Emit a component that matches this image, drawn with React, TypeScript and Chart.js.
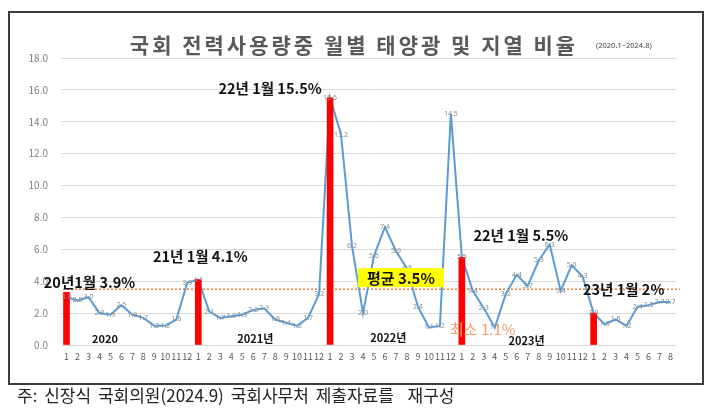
import React, { useEffect, useRef } from "react";
import { Chart, registerables } from "chart.js";

Chart.register(...registerables);

// ---- data ----
const months2020 = ["1", "2", "3", "4", "5", "6", "7", "8", "9", "10", "11", "12"];
const months2021 = ["1", "2", "3", "4", "5", "6", "7", "8", "9", "10", "11", "12"];
const months2022 = ["1", "2", "3", "4", "5", "6", "7", "8", "9", "10", "11", "12"];
const months2023 = ["1", "2", "3", "4", "5", "6", "7", "8", "9", "10", "11", "12"];
const months2024 = ["1", "2", "3", "4", "5", "6", "7", "8"];

const ratio2020 = [3.0, 2.8, 3.0, 2.0, 1.9, 2.5, 1.9, 1.7, 1.2, 1.2, 1.6, 3.9];
const ratio2021 = [4.1, 2.1, 1.7, 1.8, 1.9, 2.2, 2.3, 1.6, 1.4, 1.2, 1.7, 3.2];
const ratio2022 = [15.5, 13.2, 6.2, 2.0, 5.6, 7.4, 5.9, 4.8, 2.4, 1.1, 1.2, 14.5];
const ratio2023 = [5.5, 3.4, 2.3, 1.1, 3.2, 4.4, 3.7, 5.3, 6.3, 3.4, 5.0, 4.3];
const ratio2024 = [2.0, 1.3, 1.6, 1.2, 2.4, 2.5, 2.7, 2.7];

// January highlight bars (2020.1, 2021.1, 2022.1, 2023.1, 2024.1)
const janBarValues = [3.3, 4.1, 15.5, 5.5, 2.0];
const averageRatio = 3.5;

const yTicksMax = 18;
const yTicksStep = 2;

const title = "국회 전력사용량중 월별 태양광 및 지열 비율";
const subTitle = "(2020.1~2024.8)";
const footnote = "주: 신장식 국회의원(2024.9) 국회사무처 제출자료를  재구성";

const monthLabels = [...months2020, ...months2021, ...months2022, ...months2023, ...months2024];
const ratios = [...ratio2020, ...ratio2021, ...ratio2022, ...ratio2023, ...ratio2024];
const janBars: (number | null)[] = monthLabels.map(() => null);
janBarValues.forEach((v, k) => {
  janBars[k * 12] = v;
});

const annFont = "bold 14.5px 'Noto Sans CJK KR'";
const yearFont = "bold 11px 'Noto Sans CJK KR'";
// annotation placement (anchor category index, value level, pixel nudge)
const annotations = [
  { text: "20년1월 3.9%", idx: 0, level: 3.9, dx: 23, font: annFont, color: "#111" },
  { text: "21년 1월 4.1%", idx: 12, level: 5.55, dx: 2, font: annFont, color: "#111" },
  { text: "22년 1월 15.5%", idx: 24, level: 16.1, dx: -60, font: annFont, color: "#111" },
  { text: "22년 1월 5.5%", idx: 36, level: 6.85, dx: 59, font: annFont, color: "#111" },
  { text: "23년 1월 2%", idx: 48, level: 3.5, dx: 30, font: annFont, color: "#111" },
  { text: "최소 1.1%", idx: 39, level: 1.0, dx: -12, font: "15px 'Noto Sans CJK KR'", color: "#F19E6A" },
  { text: "2020", idx: 3.5, level: 0.38, dx: 0, font: yearFont, color: "#111" },
  { text: "2021년", idx: 17.2, level: 0.38, dx: 0, font: yearFont, color: "#111" },
  { text: "2022년", idx: 29.3, level: 0.44, dx: 0, font: yearFont, color: "#111" },
  { text: "2023년", idx: 41.9, level: 0.25, dx: 0, font: yearFont, color: "#111" },
];

function xPix(chart: any, idx: number) {
  const xs = chart.scales.x;
  const lo = Math.floor(idx);
  const hi = Math.min(lo + 1, monthLabels.length - 1);
  const a = xs.getPixelForValue(lo);
  const b = xs.getPixelForValue(hi);
  return a + (b - a) * (idx - lo);
}

const overlayPlugin = {
  id: "overlay",
  beforeDatasetsDraw(chart: any) {
    const { ctx, chartArea } = chart;
    const y = chart.scales.y.getPixelForValue(averageRatio);
    ctx.save();
    ctx.strokeStyle = "#ED7D31";
    ctx.lineWidth = 1.5;
    ctx.setLineDash([2, 2]);
    ctx.beginPath();
    ctx.moveTo(chartArea.left + 2, y);
    ctx.lineTo(chartArea.right + 4, y);
    ctx.stroke();
    ctx.restore();
  },
  afterDatasetsDraw(chart: any) {
    const { ctx } = chart;
    const meta = chart.getDatasetMeta(1);
    ctx.save();
    ctx.font = "7px 'Noto Sans'";
    ctx.fillStyle = "#8a8a8a";
    ctx.textAlign = "center";
    ctx.textBaseline = "middle";
    meta.data.forEach((pt: any, i: number) => {
      ctx.fillText(ratios[i].toFixed(1), pt.x, pt.y);
    });

    const ys = chart.scales.y;
    const avgY = ys.getPixelForValue(averageRatio);
    const boxCx = xPix(chart, 30.45);
    const bw = 86;
    const bh = 19;
    ctx.fillStyle = "#FFFF00";
    ctx.fillRect(boxCx - bw / 2, avgY - 2 - bh, bw, bh);
    ctx.fillStyle = "#111";
    ctx.font = "bold 15px 'Noto Sans CJK KR'";
    ctx.fillText("평균 " + averageRatio.toFixed(1) + "%", boxCx, avgY - 2 - bh / 2 + 1);

    annotations.forEach((a) => {
      ctx.font = a.font;
      ctx.fillStyle = a.color;
      ctx.textAlign = "center";
      ctx.textBaseline = "middle";
      ctx.fillText(a.text, xPix(chart, a.idx) + a.dx, ys.getPixelForValue(a.level));
    });

    ctx.fillStyle = "#595959";
    ctx.font = "bold 21px 'Noto Sans CJK KR'";
    (ctx as any).letterSpacing = "3px";
    ctx.textAlign = "center";
    ctx.fillText(title, 354, 45);
    (ctx as any).letterSpacing = "0px";
    ctx.fillStyle = "#404040";
    ctx.font = "7.5px 'Noto Sans'";
    ctx.textAlign = "left";
    ctx.fillText(subTitle, 596, 46);
    ctx.restore();
  },
};

export default function App() {
  const ref = useRef<HTMLCanvasElement>(null);

  useEffect(() => {
    const canvas = ref.current;
    if (!canvas) return;
    Chart.defaults.font.family = "'Noto Sans CJK KR', 'Noto Sans', sans-serif";
    const chart = new Chart(canvas, {
      type: "bar",
      data: {
        labels: monthLabels,
        datasets: [
          {
            type: "bar",
            data: janBars as any,
            backgroundColor: "#FF0000",
            barThickness: 6,
            order: 0,
          },
          {
            type: "line",
            data: ratios,
            borderColor: "#5B9BD5",
            borderWidth: 2,
            pointRadius: 0,
            tension: 0,
            order: 1,
          } as any,
        ],
      },
      options: {
        responsive: false,
        animation: false,
        layout: { padding: { top: 58, left: 0, right: 34, bottom: 45 } },
        plugins: { legend: { display: false }, tooltip: { enabled: false } },
        scales: {
          x: {
            offset: true,
            grid: { display: false, drawTicks: false },
            border: { display: false },
            ticks: {
              autoSkip: false,
              maxRotation: 0,
              minRotation: 0,
              padding: 6,
              color: "#595959",
              font: { size: 9 },
            },
            afterFit: (s: any) => {
              s.height = 22;
            },
          },
          y: {
            min: 0,
            max: yTicksMax,
            grid: { color: "#d9d9d9", drawTicks: false },
            border: { display: false },
            ticks: {
              stepSize: yTicksStep,
              padding: 13,
              color: "#7f7f7f",
              font: { size: 10 },
              callback: (v: any) => Number(v).toFixed(1),
            },
            afterFit: (s: any) => {
              s.width = 61;
            },
          },
        },
      },
      plugins: [overlayPlugin],
    });
    return () => chart.destroy();
  }, []);

  return (
    <div style={{ position: "fixed", left: 0, top: 0, width: 710, height: 412, background: "#fff" }}>
      <div
        style={{
          position: "absolute",
          left: 8,
          top: 11,
          width: 696,
          height: 374,
          boxSizing: "border-box",
          border: "2px solid #3c3c3c",
        }}
      />
      <canvas
        ref={ref}
        width={710}
        height={412}
        style={{ position: "absolute", left: 0, top: 0, width: 710, height: 412 }}
      />
      <div
        style={{
          position: "absolute",
          left: 17,
          top: 385,
          fontFamily: "'Noto Sans CJK KR', sans-serif",
          fontSize: 17,
          lineHeight: "20px",
          color: "#222",
          whiteSpace: "pre",
          wordSpacing: 3,
        }}
      >
        {footnote}
      </div>
    </div>
  );
}
